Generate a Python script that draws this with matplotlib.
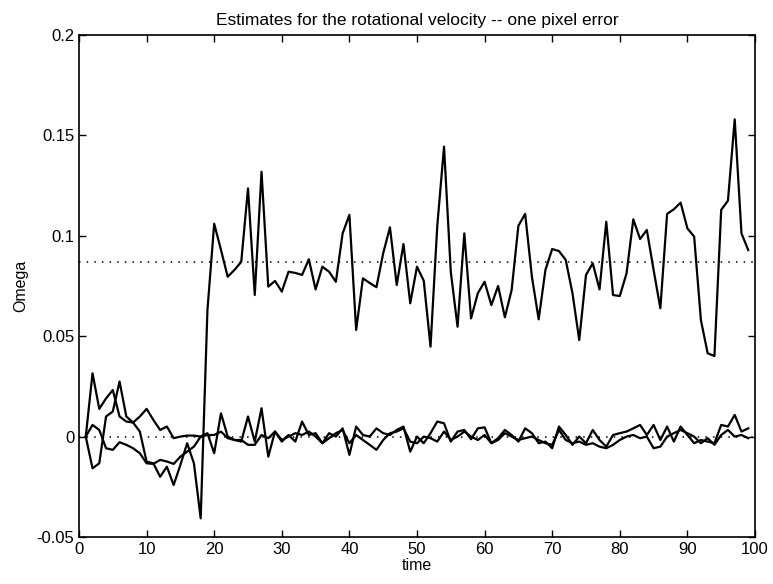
import numpy as np
import matplotlib.pyplot as plt
from matplotlib.ticker import FuncFormatter

plt.rcParams['font.family'] = ['Liberation Sans', 'DejaVu Sans']

# time axis: samples 1..99
t = np.arange(1, 100)

# first 18 samples of the three estimates
pre_p = [0, 0.0315, 0.0138, 0.019, 0.0232, 0.010, 0.0075, 0.0070, 0.0100, 0.0138,
         0.0083, 0.0033, 0.005, -0.0008, 0.0, 0.0005, 0.0005, 0.0]
pre_q = [0, 0.0058, 0.0033, -0.0058, -0.0066, -0.0028, -0.0041, -0.0058, -0.0083, -0.0133,
         -0.0136, -0.0116, -0.0124, -0.0136, -0.010, -0.0075, -0.005, 0.0]
pre_r = [0, -0.0158, -0.0133, 0.010, 0.0125, 0.0274, 0.0100, 0.0070, 0.0025, -0.0125,
         -0.0133, -0.020, -0.015, -0.0241, -0.0141, -0.0033, -0.0133, -0.0407]

# samples 19..99
post_p = [0.0017, -0.0083, 0.0116, 0.0, -0.0017, -0.0025, 0.010, -0.0025, 0.0141, -0.010,
          0.0025, -0.0025, 0.0008, -0.0025, 0.0075, 0.0008, 0.0017, -0.0033, 0.0017, 0.0,
          0.0041, -0.0091, 0.005, 0.0008, 0.0, 0.0041, 0.0017, 0.0008, 0.0033, 0.005,
          -0.0075, 0.0, -0.0033, 0.0017, 0.0075, 0.0066, -0.0025, 0.0025, 0.0033, -0.0013,
          0.0041, 0.0046, -0.0033, -0.0008, 0.0033, 0.0008, -0.0025, 0.0041, 0.0017, -0.0033,
          -0.0025, -0.0058, 0.005, 0.0008, -0.0041, 0.0, -0.0033, 0.0033, -0.0017, -0.005,
          0.0008, 0.0017, 0.0025, 0.0041, 0.0058, 0.0008, 0.0058, -0.0017, 0.005, -0.0025,
          0.005, 0.0008, -0.0033, -0.0017, -0.0025, -0.0033, 0.0058, 0.005, 0.0108, 0.0025,
          0.0041]
post_q = [0.0008, 0.0008, 0.0025, -0.0008, -0.0017, -0.0017, -0.0041, -0.0041, 0.0008, -0.0008,
          0.0025, -0.0017, 0.0, 0.0017, 0.0008, 0.0025, 0.0, -0.0033, -0.0008, 0.0017,
          0.0033, -0.0033, 0.0008, -0.0017, -0.0041, -0.0066, -0.0017, 0.0017, 0.0025, 0.0041,
          -0.0025, -0.0033, 0.0, -0.0008, -0.0025, 0.0025, -0.0017, 0.0, 0.0025, 0.0,
          -0.0017, 0.0008, -0.0033, -0.0017, 0.0017, 0.0, -0.0017, -0.0008, 0.0, -0.0017,
          -0.0033, -0.0041, 0.0033, -0.0017, -0.0033, -0.0025, -0.0041, -0.0033, -0.005, -0.0058,
          -0.0041, -0.0017, 0.0, 0.0008, -0.0008, 0.0, -0.0058, -0.005, 0.0, 0.0017,
          0.0033, 0.0017, 0.0, -0.0033, -0.0008, -0.0041, 0.0008, 0.0033, 0.0, 0.0008,
          -0.0008]
post_r = [0.063, 0.106, 0.093, 0.0796, 0.083, 0.087, 0.1236, 0.0705, 0.1319, 0.0747,
          0.0775, 0.0722, 0.0821, 0.0815, 0.0805, 0.0883, 0.0733, 0.0846, 0.0821, 0.0771,
          0.1012, 0.1104, 0.0531, 0.0788, 0.0765, 0.0744, 0.0913, 0.1042, 0.0755, 0.0959,
          0.0664, 0.0846, 0.0776, 0.0448, 0.105, 0.1444, 0.082, 0.0547, 0.1012, 0.0589,
          0.0714, 0.0771, 0.0655, 0.075, 0.0594, 0.073, 0.105, 0.1109, 0.0796, 0.0584,
          0.083, 0.0934, 0.0924, 0.088, 0.0714, 0.0481, 0.0805, 0.0863, 0.0733, 0.107,
          0.0705, 0.070, 0.0813, 0.1082, 0.0984, 0.1029, 0.083, 0.0639, 0.1109, 0.1132,
          0.1165, 0.1037, 0.0996, 0.058, 0.0415, 0.0401, 0.1129, 0.1175, 0.158, 0.1012,
          0.0929]

true_x = [0, 100]
true_omega = 0.087

omega_p = pre_p + post_p
omega_q = pre_q + post_q
omega_r = pre_r + post_r

fig = plt.figure(figsize=(7.73, 5.84), dpi=100)
ax = fig.add_axes([0.1022, 0.0805, 0.8745, 0.8596])

# true values (dotted)
ax.plot(true_x, [true_omega, true_omega], color='k', lw=1.1, ls=(0, (1, 4)))
ax.plot(true_x, [0, 0], color='k', lw=1.1, ls=(0, (1, 4)))

# estimates
for y in (omega_p, omega_q, omega_r):
    ax.plot(t, y, color='k', lw=1.6)

ax.set_xlim(0, 100)
ax.set_ylim(-0.05, 0.2)
ax.set_xticks(np.arange(0, 101, 10))
ax.set_yticks([-0.05, 0, 0.05, 0.1, 0.15, 0.2])
ax.yaxis.set_major_formatter(FuncFormatter(lambda v, p: '%g' % round(v, 3)))
ax.tick_params(direction='in', top=True, right=True, length=5, labelsize=12, width=1)
for s in ax.spines.values():
    s.set_linewidth(1.2)

ax.set_title('Estimates for the rotational velocity -- one pixel error', fontsize=12.5, pad=7)
ax.set_xlabel('time', fontsize=11.5, labelpad=1)
ax.set_ylabel('Omega', fontsize=11.5, labelpad=6)

plt.savefig('out.png', dpi=100)
